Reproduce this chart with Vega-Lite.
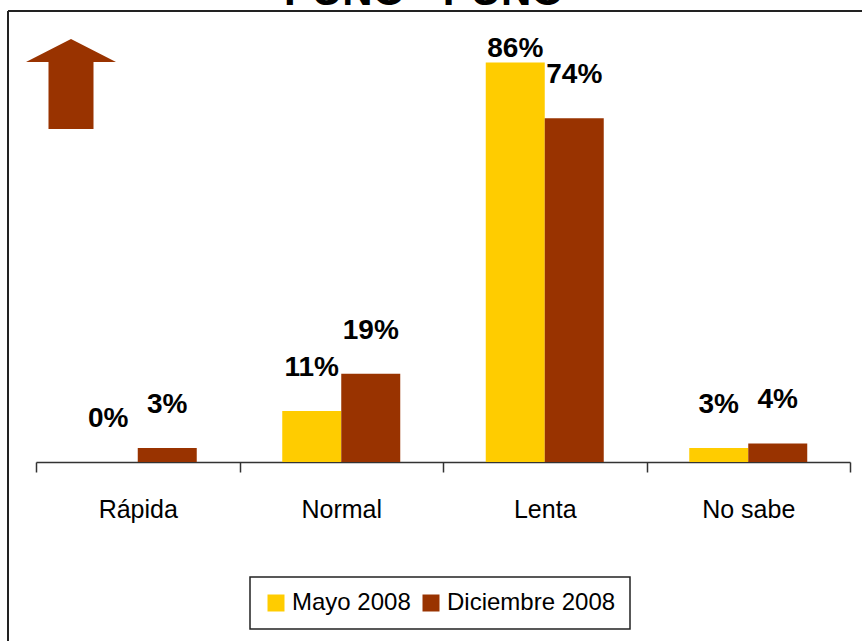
{
  "$schema": "https://vega.github.io/schema/vega-lite/v6.json",
  "width": 854,
  "height": 630,
  "autosize": {"type": "none"},
  "padding": {"left": 8, "top": 11, "right": 0, "bottom": 0},
  "background": "white",
  "title": {
    "text": "PUNO - PUNO",
    "font": "Liberation Sans",
    "fontSize": 42,
    "fontWeight": "bold",
    "color": "black",
    "anchor": "middle",
    "frame": "group",
    "baseline": "alphabetic",
    "offset": 0,
    "dy": 36,
    "dx": -11
  },
  "config": {
    "view": {"stroke": "#222", "strokeWidth": 2, "strokeDash": [854, 1484, 630, 0]},
    "legend": {"strokeWidth": 1.5}
  },
  "datasets": {
    "bars": [
      {"category": "Rápida", "series": "Mayo 2008", "value": 0},
      {"category": "Rápida", "series": "Diciembre 2008", "value": 3},
      {"category": "Normal", "series": "Mayo 2008", "value": 11},
      {"category": "Normal", "series": "Diciembre 2008", "value": 19},
      {"category": "Lenta", "series": "Mayo 2008", "value": 86},
      {"category": "Lenta", "series": "Diciembre 2008", "value": 74},
      {"category": "No sabe", "series": "Mayo 2008", "value": 3},
      {"category": "No sabe", "series": "Diciembre 2008", "value": 4}
    ],
    "arrow": [
      {"category": "Rápida", "value": 81.4}
    ]
  },
  "layer": [
    {
      "data": {"name": "bars"},
      "mark": {"type": "bar"},
      "encoding": {
        "x": {
          "field": "category",
          "type": "nominal",
          "sort": ["Rápida", "Normal", "Lenta", "No sabe"],
          "scale": {"range": [28, 842], "paddingInner": 0, "paddingOuter": 0},
          "axis": {
            "title": null,
            "orient": "bottom",
            "offset": -179,
            "tickBand": "extent",
            "tickSize": 10,
            "tickColor": "#333",
            "tickWidth": 1.5,
            "domainColor": "#333",
            "domainWidth": 1.5,
            "labelFont": "Liberation Sans",
            "labelFontSize": 25,
            "labelColor": "black",
            "labelAngle": 0,
            "labelBaseline": "alphabetic",
            "labelPadding": 45
          }
        },
        "xOffset": {
          "field": "series",
          "type": "nominal",
          "sort": ["Mayo 2008", "Diciembre 2008"],
          "scale": {"paddingInner": 0, "paddingOuter": 0.7246}
        },
        "y": {
          "field": "value",
          "type": "quantitative",
          "scale": {"domain": [0, 90], "range": [451, 33]},
          "axis": null
        },
        "color": {
          "field": "series",
          "type": "nominal",
          "sort": ["Mayo 2008", "Diciembre 2008"],
          "scale": {"domain": ["Mayo 2008", "Diciembre 2008"], "range": ["#FFCC00", "#993300"]},
          "legend": {
            "orient": "none",
            "legendX": 242,
            "legendY": 566,
            "direction": "horizontal",
            "title": null,
            "symbolType": "square",
            "symbolSize": 289,
            "symbolStrokeWidth": 0,
            "labelFont": "Liberation Sans",
            "labelFontSize": 24,
            "labelColor": "black",
            "labelLimit": 300,
            "labelOffset": 4,
            "columnPadding": 8,
            "padding": 14,
            "strokeColor": "#222"
          }
        }
      }
    },
    {
      "data": {"name": "bars"},
      "transform": [
        {"filter": "datum.value < 80"},
        {"calculate": "datum.value + '%'", "as": "label"}
      ],
      "mark": {
        "type": "text",
        "font": "Liberation Sans",
        "fontSize": 28,
        "fontWeight": "bold",
        "color": "black",
        "align": "center",
        "baseline": "alphabetic",
        "dy": -35
      },
      "encoding": {
        "x": {"field": "category", "type": "nominal", "sort": ["Rápida", "Normal", "Lenta", "No sabe"]},
        "xOffset": {"field": "series", "type": "nominal", "sort": ["Mayo 2008", "Diciembre 2008"]},
        "y": {"field": "value", "type": "quantitative"},
        "text": {"field": "label"}
      }
    },
    {
      "data": {"name": "bars"},
      "transform": [
        {"filter": "datum.value >= 80"},
        {"calculate": "datum.value + '%'", "as": "label"}
      ],
      "mark": {
        "type": "text",
        "font": "Liberation Sans",
        "fontSize": 28,
        "fontWeight": "bold",
        "color": "black",
        "align": "center",
        "baseline": "alphabetic",
        "dy": -6
      },
      "encoding": {
        "x": {"field": "category", "type": "nominal", "sort": ["Rápida", "Normal", "Lenta", "No sabe"]},
        "xOffset": {"field": "series", "type": "nominal", "sort": ["Mayo 2008", "Diciembre 2008"]},
        "y": {"field": "value", "type": "quantitative"},
        "text": {"field": "label"}
      }
    },
    {
      "data": {"name": "arrow"},
      "mark": {
        "type": "point",
        "shape": "M0,-1L1,-0.49L0.5,-0.49L0.5,1L-0.5,1L-0.5,-0.49L-1,-0.49Z",
        "filled": true,
        "color": "#993300",
        "opacity": 1,
        "size": 8100
      },
      "encoding": {
        "x": {"field": "category", "type": "nominal", "bandPosition": 0.172, "sort": ["Rápida", "Normal", "Lenta", "No sabe"]},
        "y": {"field": "value", "type": "quantitative"}
      }
    }
  ]
}
